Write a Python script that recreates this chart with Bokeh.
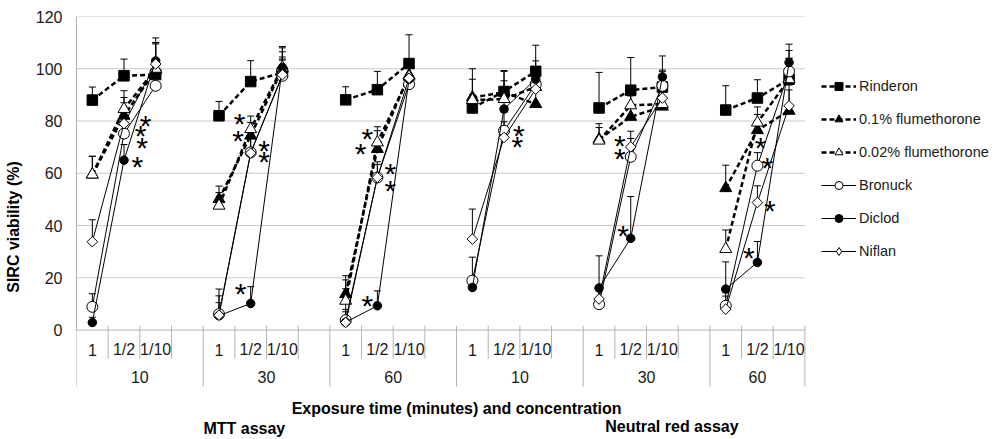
import math
from bokeh.plotting import figure
from bokeh.models import Range1d, FixedTicker, Legend, LegendItem, ColumnDataSource, Whisker, TeeHead
from bokeh.core.properties import value
from bokeh.embed import file_html
from bokeh.resources import INLINE

# ---------------- data ----------------
times = ["10", "30", "60", "10", "30", "60"]
concs = ["1", "1/2", "1/10"]
assays = ["MTT assay", "Neutral red assay"]
x_title = "Exposure time (minutes) and concentration"
y_title = "SIRC viability (%)"
y_ticks = [0, 20, 40, 60, 80, 100, 120]

series_names = ["Rinderon", "0.1% flumethorone", "0.02% flumethorone", "Bronuck", "Diclod", "Niflan"]

rinderon = [88.0, 97.3, 97.8, 82.0, 95.1, 98.5, 88.1, 92.0, 102.0, 85.0, 91.3, 99.0, 85.0, 91.8, 93.0, 84.2, 88.8, 96.0]
flu01 = [59.5, 82.0, 99.5, 50.1, 74.4, 100.0, 13.8, 69.3, 97.5, 89.0, 91.0, 86.5, 73.0, 81.6, 85.5, 54.3, 76.5, 83.9]
flu002 = [59.5, 84.6, 100.0, 47.6, 76.9, 100.5, 11.2, 71.8, 97.0, 88.0, 88.4, 93.0, 72.5, 86.0, 86.5, 31.0, 79.4, 96.0]
bronuck = [8.9, 75.2, 93.5, 6.1, 68.0, 97.3, 3.8, 58.4, 94.1, 18.9, 76.3, 94.1, 9.9, 66.3, 93.5, 9.3, 62.9, 99.0]
diclod = [2.9, 65.0, 103.0, 5.5, 10.2, 100.5, 3.0, 9.3, 96.0, 16.3, 84.6, 96.0, 16.1, 35.1, 96.9, 15.7, 25.9, 102.4]
niflan = [33.8, 79.0, 101.8, 5.7, 67.7, 97.7, 2.9, 58.4, 96.4, 34.8, 73.7, 92.2, 11.9, 70.1, 88.8, 8.0, 48.8, 85.8]

rinderon_err = [5.0, 6.4, 5.0, 5.5, 8.0, 6.0, 5.0, 7.0, 11.0, 5.0, 8.0, 10.0, 13.6, 12.5, 6.0, 9.3, 7.0, 8.0]
flu01_err = [7.0, 7.0, 10.0, 5.0, 5.0, 8.0, 7.0, 7.0, 5.0, 11.0, 8.0, 8.0, 6.0, 8.0, 8.0, 8.8, 6.0, 8.0]
flu002_err = [7.0, 7.0, 10.0, 5.0, 5.0, 8.0, 8.0, 6.0, 5.0, 8.0, 7.0, 6.0, 5.0, 7.0, 6.0, 7.3, 6.0, 8.0]
bronuck_err = [5.0, 7.0, 8.0, 7.0, 6.0, 6.0, 12.0, 5.0, 6.0, 9.0, 7.0, 6.0, 5.0, 7.0, 6.0, 5.0, 5.0, 8.0]
diclod_err = [2.0, 6.0, 7.0, 5.0, 6.4, 6.0, 4.0, 5.7, 6.0, 4.0, 6.0, 7.0, 12.3, 16.0, 8.0, 10.4, 8.0, 7.0]
niflan_err = [8.4, 8.0, 10.0, 10.0, 7.0, 6.0, 5.0, 6.0, 6.0, 11.5, 6.0, 7.0, 5.0, 6.0, 7.0, 5.0, 6.4, 8.0]

# significance asterisks (x in category slots, y in %)
ast_x = [2.18, 2.02, 2.07, 1.92, 5.15, 5.10, 5.92, 5.92, 5.18, 9.18, 8.97, 9.91, 9.91, 9.18,
         13.97, 13.92, 17.16, 17.16, 17.26, 21.60, 21.81, 21.89, 21.23]
ast_y = [79.4, 75.6, 70.9, 63.8, 80.1, 73.7, 69.9, 65.8, 15.0, 74.4, 68.6, 61.0, 54.6, 10.6,
         75.6, 71.4, 71.8, 66.7, 37.4, 70.9, 63.5, 46.9, 28.8]

values = [rinderon, flu01, flu002, bronuck, diclod, niflan]
errors = [rinderon_err, flu01_err, flu002_err, bronuck_err, diclod_err, niflan_err]

# ---------------- layout helpers ----------------
FONT = "Liberation Sans"
SLOTS = 4                      # 3 concentrations + 1 empty slot per group
n_groups = len(times)
n_slots = n_groups * SLOTS - 1  # last group has no trailing gap
PX_X = 31.67
PX_Y = 2.613
W, H = 1000, 437
ML, MT = 76, 16
frame_w, frame_h = W - ML, H - MT

xs = [g * SLOTS + c + 0.5 for g in range(n_groups) for c in range(len(concs))]

def with_gaps(vals):
    ox, oy = [], []
    for g in range(n_groups):
        for c in range(len(concs)):
            i = g * len(concs) + c
            ox.append(xs[i]); oy.append(vals[i])
        ox.append(float("nan")); oy.append(float("nan"))
    return ox, oy

p = figure(width=W, height=H, output_backend="svg", toolbar_location=None,
           x_range=Range1d(0, frame_w / PX_X), y_range=Range1d(120 - frame_h / PX_Y, 120),
           x_axis_type=None, min_border_left=ML, min_border_right=0,
           min_border_top=MT, min_border_bottom=0)
p.outline_line_color = None
p.xgrid.visible = False
p.ygrid.visible = False

GRID = "#c9c9c9"
AX = "#b3b3b3"

# y axis
ya = p.yaxis[0]
ya.ticker = FixedTicker(ticks=y_ticks)
ya.bounds = (0, 120)
ya.axis_line_color = AX
ya.axis_line_width = 1
ya.major_tick_line_color = None
ya.minor_tick_line_color = None
ya.major_tick_out = 0
ya.major_label_standoff = 14
ya.major_label_text_font = FONT
ya.major_label_text_font_size = "16px"
ya.major_label_text_color = "#1a1a1a"
ya.axis_label = y_title
ya.axis_label_text_font = FONT
ya.axis_label_text_font_size = "16px"
ya.axis_label_text_font_style = "bold"
ya.axis_label_text_color = "#000000"
ya.axis_label_standoff = 11

# gridlines (only over the category region)
gy = y_ticks[1:]
g_r = p.segment(x0=[0] * len(gy), x1=[n_slots] * len(gy), y0=gy, y1=gy, line_color=GRID, line_width=1)
g_r.level = "underlay"

# category axis line, ticks & separators
p.segment(x0=[0], x1=[n_slots], y0=[0], y1=[0], line_color=AX, line_width=1)
minor = [k for k in range(n_slots + 1) if k % SLOTS != 0 and k != n_slots]
major = [k for k in range(n_slots + 1) if k % SLOTS == 0 or k == n_slots]
p.segment(x0=minor, x1=minor, y0=[1.6] * len(minor), y1=[-11.0] * len(minor), line_color=AX, line_width=1)
p.segment(x0=major, x1=major, y0=[1.6] * len(major), y1=[-21.7] * len(major), line_color=AX, line_width=1)

lab_t = [concs[c] for g in range(n_groups) for c in range(len(concs))]
p.text(x=xs, y=[-7.6] * len(xs), text=lab_t, text_font=value(FONT), text_font_size="16px",
       text_align="center", text_baseline="middle", text_color="#1a1a1a")
grp_x = [(g * SLOTS + min(g * SLOTS + SLOTS, n_slots)) / 2 for g in range(n_groups)]
p.text(x=grp_x, y=[-17.9] * n_groups, text=times, text_font=value(FONT), text_font_size="16px",
       text_align="center", text_baseline="middle", text_color="#1a1a1a")
p.text(x=[12.0], y=[-29.9], text=[x_title], text_font=value(FONT), text_font_size="16px",
       text_font_style="bold", text_align="center", text_baseline="middle", text_color="#000000")
p.text(x=[5.3, 18.8], y=[-37.8, -36.8], text=assays, text_font=value(FONT), text_font_size="16px",
       text_font_style="bold", text_align="center", text_baseline="middle", text_color="#000000")

# error bars (upper only)
for vals, errs in zip(values, errors):
    src = ColumnDataSource(dict(x=xs, y=vals, top=[v + e for v, e in zip(vals, errs)]))
    w = Whisker(source=src, base="x", lower="y", upper="top", dimension="height",
                line_color="black", line_width=1, lower_head=None,
                upper_head=TeeHead(size=7, line_color="black", line_width=1))
    p.add_layout(w)

styles = [
    dict(dash="5 3", lw=2.5, marker="square", size=10.5, fill="black", angle=0.0, lmarker="square", lsize=9),
    dict(dash="5 3", lw=2.5, marker="triangle", size=12, fill="black", angle=0.0, lmarker="triangle", lsize=10),
    dict(dash="5 3", lw=2.5, marker="triangle", size=12, fill="white", angle=0.0, lmarker="triangle", lsize=10),
    dict(dash="solid", lw=1, marker="circle", size=11, fill="white", angle=0.0, lmarker="circle", lsize=9),
    dict(dash="solid", lw=1, marker="circle", size=8.5, fill="black", angle=0.0, lmarker="circle", lsize=8),
    dict(dash="solid", lw=1, marker="square", size=7.5, fill="white", angle=math.pi / 4, lmarker="diamond", lsize=11),
]

NAN = float("nan")
items = []
for name, vals, st in zip(series_names, values, styles):
    lx, ly = with_gaps(vals)
    lr = p.line(lx, ly, line_color="black", line_width=st["lw"], line_dash=st["dash"])
    p.scatter(xs, vals, marker=st["marker"], size=st["size"], angle=st["angle"],
              fill_color=st["fill"], line_color="black", line_width=1)
    # legend-only marker (a single undrawable point)
    dummy = p.scatter(x=[NAN], y=[NAN], marker=st["lmarker"], size=st["lsize"],
                      fill_color=st["fill"], line_color="black", line_width=1)
    items.append(LegendItem(label=name, renderers=[lr, dummy]))

# asterisks
p.text(x=ast_x, y=ast_y, text=["*"] * len(ast_x), text_font=value(FONT), text_font_size="30px",
       text_align="center", text_baseline="alphabetic", y_offset=3, text_color="black")

legend = Legend(items=items, location=(745, 176), padding=0, margin=0, spacing=13,
                glyph_width=35, glyph_height=20, label_height=20, label_standoff=3,
                label_text_font=FONT, label_text_font_size="14.5px", label_text_color="#1a1a1a",
                border_line_color=None, background_fill_alpha=0)
p.add_layout(legend)

open("out.html", "w").write(file_html(p, INLINE))
